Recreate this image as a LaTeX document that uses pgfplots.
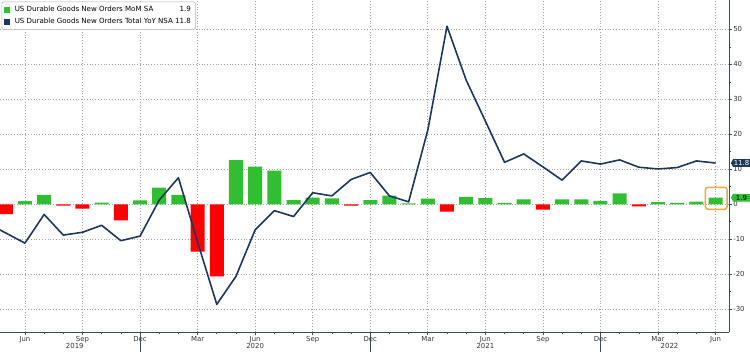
\documentclass[border=0pt]{standalone}
\usepackage{pgfplots}
\pgfplotsset{compat=1.18}
\usepackage{pgfplotstable}
\usepackage{fontspec}
\setmainfont{DejaVu Sans}
\usetikzlibrary{shapes.symbols}
\definecolor{bgreen}{RGB}{50,190,50}
\definecolor{bred}{RGB}{255,0,0}
\definecolor{navy}{RGB}{30,55,90}
\definecolor{obox}{RGB}{240,170,60}
\definecolor{gridcol}{RGB}{165,165,165}
\definecolor{axiscol}{RGB}{60,75,95}

\pgfplotstableread{
m v
-1 -2.8
0 0.9
1 2.7
2 -0.4
3 -1.2
4 0.5
5 -4.6
6 1.1
7 4.8
8 2.7
9 -13.5
10 -20.6
11 12.6
12 10.8
13 9.6
14 1.2
15 1.9
16 1.7
17 -0.4
18 1.2
19 2.5
20 0.3
21 1.6
22 -2.1
23 2.1
24 1.8
25 0.4
26 1.4
27 -1.5
28 1.4
29 1.4
30 1.0
31 3.1
32 -0.6
33 0.6
34 0.4
35 0.8
36 1.9
}\bars

\pgfplotstableread{
m y
-2 -5.3
-1 -8.2
0 -11.1
1 -2.9
2 -8.8
3 -8.0
4 -6.0
5 -10.4
6 -9.1
7 1.2
8 7.6
9 -10.8
10 -28.6
11 -20.6
12 -7.3
13 -1.8
14 -3.5
15 3.3
16 2.4
17 7.1
18 9.1
19 2.4
20 0.7
21 21.2
22 50.9
23 35.5
24 23.8
25 12.0
26 14.4
27 10.7
28 6.9
29 12.4
30 11.5
31 12.7
32 10.6
33 10.1
34 10.5
35 12.4
36 11.8
}\yoy

\begin{document}
\begin{tikzpicture}[font=\fontsize{5}{6}\selectfont]
\useasboundingbox (0,0) rectangle (562.5pt,264pt);
\begin{axis}[
  at={(0pt,15pt)}, anchor=south west,
  scale only axis, width=546.75pt, height=249pt,
  xmin=-1.3, xmax=36.7, ymin=-36.5, ymax=58.4,
  axis x line*=bottom, axis y line*=right,
  axis line style={draw=axiscol, line width=0.6pt},
  xtick={0,3,...,36},
  xticklabels={Jun,Sep,Dec,Mar,Jun,Sep,Dec,Mar,Jun,Sep,Dec,Mar,Jun},
  minor x tick num=2,
  ytick={-30,-20,...,50},
  minor y tick num=1,
  tick align=outside,
  major tick length=2.2pt, minor tick length=1.6pt,
  tick style={draw=axiscol, line width=0.5pt},
  grid=major,
  major grid style={draw=gridcol, line width=0.5pt, dash pattern=on 0.5pt off 1.6pt},
  /pgf/number format/assume math mode=true,
  ticklabel style={font=\fontsize{5.2}{6}\selectfont, text=black!80},
  xticklabel style={inner sep=0.6pt},
  yticklabel style={inner sep=0.8pt},
  legend style={at={(rel axis cs:0,1)}, anchor=north west, xshift=1.2pt, yshift=-1.2pt,
    draw=gray!60, rounded corners=1.5pt, fill=white,
    font=\fontsize{5.3}{6}\selectfont, inner xsep=1.5pt, inner ysep=1pt, row sep=-0.4pt,
    /tikz/every odd column/.append style={column sep=1.8pt}},
  legend cell align=left,
]
\addlegendimage{legend image code/.code={\fill[bgreen, sharp corners] (0pt,-2pt) rectangle (4pt,2pt);}}
\addlegendentry{\makebox[121pt][l]{US Durable Goods New Orders MoM SA}\makebox[11pt][r]{1.9}}
\addlegendimage{legend image code/.code={\fill[navy, sharp corners] (0pt,-2pt) rectangle (4pt,2pt);}}
\addlegendentry{\makebox[121pt][l]{US Durable Goods New Orders Total YoY NSA}\makebox[11pt][r]{11.8}}

\addplot[ybar, bar width=10.5pt, bar shift=0pt, fill=bgreen, draw=none,
  restrict y to domain=0:100, forget plot] table[x=m,y=v]{\bars};
\addplot[ybar, bar width=10.5pt, bar shift=0pt, fill=bred, draw=none,
  restrict y to domain=-100:0, forget plot] table[x=m,y=v]{\bars};
\addplot[navy, line width=1.2pt, line join=round, forget plot] table[x=m,y=y]{\yoy};

\coordinate (lab1) at (axis cs:36.7,11.8);
\coordinate (lab2) at (axis cs:36.7,1.9);
\coordinate (ob1) at (axis cs:35.47,4.86);
\coordinate (ob2) at (axis cs:36.6,-1.43);
\coordinate (y19) at (axis cs:2.6,-36.5);
\coordinate (y20) at (axis cs:12,-36.5);
\coordinate (y21) at (axis cs:24,-36.5);
\coordinate (y22) at (axis cs:33.6,-36.5);
\coordinate (s1) at (axis cs:6,-36.5);
\coordinate (s2) at (axis cs:18,-36.5);
\coordinate (s3) at (axis cs:30,-36.5);
\end{axis}
\draw[obox, line width=1.1pt, rounded corners=2pt] (ob1) rectangle (ob2);
\node[signal, signal to=west, signal pointer angle=120, fill=navy, text=white,
  inner sep=0.5pt, minimum width=14.2pt, minimum height=5.8pt, anchor=west,
  font=\fontsize{5.2}{5}\selectfont] at ([xshift=1.2pt]lab1) {11.8};
\node[signal, signal to=west, signal pointer angle=120, fill=bgreen, text=black,
  inner sep=0.5pt, minimum width=14.2pt, minimum height=5.8pt, anchor=west,
  font=\fontsize{5.2}{5}\selectfont] at ([xshift=1.2pt]lab2) {1.9};
\foreach \s in {s1,s2,s3}{\draw[axiscol, line width=0.4pt] (\s) -- ++(0,-15pt);}
\node[text=black!80, font=\fontsize{5.2}{6}\selectfont] at ([yshift=-10.3pt]y19) {2019};
\node[text=black!80, font=\fontsize{5.2}{6}\selectfont] at ([yshift=-10.3pt]y20) {2020};
\node[text=black!80, font=\fontsize{5.2}{6}\selectfont] at ([yshift=-10.3pt]y21) {2021};
\node[text=black!80, font=\fontsize{5.2}{6}\selectfont] at ([yshift=-10.3pt]y22) {2022};
\end{tikzpicture}
\end{document}
